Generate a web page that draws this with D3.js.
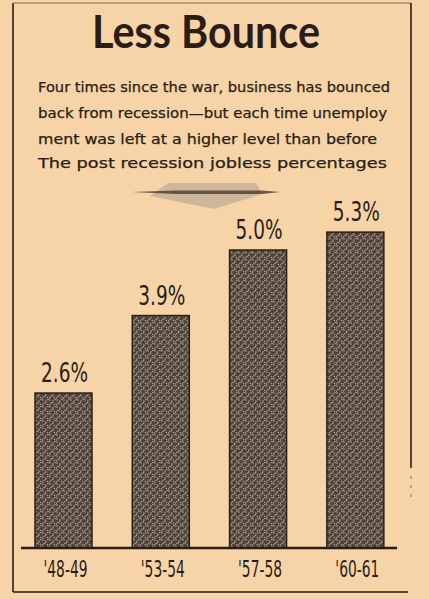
<!DOCTYPE html>
<html><head><meta charset="utf-8">
<script src="https://cdn.jsdelivr.net/npm/d3@7"></script>
<style>html,body{margin:0;padding:0;background:#f6d4a8;}svg{display:block;}</style>
</head><body>
<script>
const categories = ["'48-49", "'53-54", "'57-58", "'60-61"];
const values = [2.6, 3.9, 5.0, 5.3];
const valueLabels = ["2.6%", "3.9%", "5.0%", "5.3%"];
const title = "Less Bounce";
const subtitleLines = [
  "Four times since the war, business has bounced",
  "back from recession\u2014but each time unemploy",
  "ment was left at a higher level than before",
  "The post recession jobless percentages"
];

const W = 429, H = 599;
const ink = "#2b1d15";
const svg = d3.select("body").append("svg").attr("width", W).attr("height", H);
svg.append("rect").attr("width", W).attr("height", H).attr("fill", "#f6d4a8");

// stipple pattern
const defs = svg.append("defs");
const pat = defs.append("pattern").attr("id", "stip").attr("patternUnits", "userSpaceOnUse")
  .attr("width", 7).attr("height", 7);
pat.append("rect").attr("width", 7).attr("height", 7).attr("fill", "#4e433c");
const dots = [[1,1],[4,2],[2,4.5],[5.5,5.5],[6,0.5],[0.5,6],[3.5,3.5]];
pat.selectAll("circle").data(dots).join("circle")
  .attr("cx", d => d[0]).attr("cy", d => d[1]).attr("r", 0.8).attr("fill", "#b0a190");

// frame
const frame = svg.append("g").attr("stroke", ink).attr("fill", "none");
frame.append("line").attr("x1", 13).attr("y1", 3).attr("x2", 13).attr("y2", 592).attr("stroke-width", 1.6);
frame.append("line").attr("x1", 13).attr("y1", 3).attr("x2", 411).attr("y2", 3).attr("stroke-width", 1).attr("stroke", "#8a6a45");
frame.append("line").attr("x1", 411).attr("y1", 3).attr("x2", 411).attr("y2", 468).attr("stroke-width", 1.6);
frame.append("line").attr("x1", 411).attr("y1", 476).attr("x2", 411).attr("y2", 498).attr("stroke-width", 0.8).attr("stroke-dasharray", "3,6").attr("stroke", "#6b5440");
frame.append("line").attr("x1", 13).attr("y1", 592).attr("x2", 408).attr("y2", 592).attr("stroke-width", 1.6);

// title
svg.append("text").attr("x", 206).attr("y", 48).attr("text-anchor", "middle")
  .attr("font-family", "Lato, 'DejaVu Sans', sans-serif").attr("font-weight", 700)
  .attr("font-size", 45).attr("fill", ink)
  .attr("textLength", 228).attr("lengthAdjust", "spacingAndGlyphs").text(title);

// subtitle lines
const lineY = [92, 118, 144, 168];
const lineLen = [352, 349, 339, 349];
svg.selectAll("text.sub").data(subtitleLines).join("text").attr("class", "sub")
  .attr("x", 38).attr("y", (d, i) => lineY[i])
  .attr("font-family", "'DejaVu Sans', sans-serif").attr("font-size", 13.5)
  .attr("fill", ink).attr("stroke", ink).attr("stroke-width", 0.25)
  .attr("textLength", (d, i) => lineLen[i]).attr("lengthAdjust", "spacingAndGlyphs")
  .text(d => d);

// decorative arrow
const arrow = svg.append("g");
arrow.append("path").attr("d", "M168,183 L256,183 L262,194 L214,209 L150,196 Z")
  .attr("fill", "#bcab95").attr("opacity", 0.7);
arrow.append("path").attr("d", "M132,192 L175,190.5 L262,190.5 L280,192 L262,194 L175,194 Z")
  .attr("fill", "#4b3a2c").attr("opacity", 0.8);

// scales
const x = d3.scaleBand().domain(categories).range([14.85, 404]).paddingInner(0.414).paddingOuter(0.207);
const y = d3.scaleLinear().domain([0, 6]).range([548, 548 - 6 * 59.6]);

// bars
svg.selectAll("rect.bar").data(values).join("rect").attr("class", "bar")
  .attr("x", (d, i) => x(categories[i]))
  .attr("y", d => y(d))
  .attr("width", x.bandwidth())
  .attr("height", d => y(0) - y(d))
  .attr("fill", "url(#stip)").attr("stroke", "#2a1f18").attr("stroke-width", 1.5);

// value labels
svg.selectAll("text.val").data(values).join("text").attr("class", "val")
  .attr("x", (d, i) => x(categories[i]) + x.bandwidth() / 2 + 1)
  .attr("y", d => y(d) - 11)
  .attr("text-anchor", "middle")
  .attr("font-family", "'DejaVu Sans', sans-serif").attr("font-size", 26)
  .attr("fill", ink)
  .attr("textLength", 47).attr("lengthAdjust", "spacingAndGlyphs")
  .text((d, i) => valueLabels[i]);

// baseline axis
const axis = d3.axisBottom(x).tickSize(0).tickPadding(0);
const ax = svg.append("g").attr("transform", "translate(0,548)").call(axis);
ax.select(".domain").remove();
ax.append("line").attr("x1", 21).attr("x2", 397).attr("y1", 0).attr("y2", 0)
  .attr("stroke", ink).attr("stroke-width", 2.5);
ax.selectAll(".tick text")
  .attr("dy", 0).attr("y", 29)
  .attr("font-family", "'DejaVu Sans', sans-serif").attr("font-size", 23)
  .attr("fill", ink)
  .attr("textLength", 44).attr("lengthAdjust", "spacingAndGlyphs");
ax.selectAll(".tick").attr("transform", d => `translate(${x(d) + x.bandwidth() / 2 + 2},0)`);
</script>
</body></html>
